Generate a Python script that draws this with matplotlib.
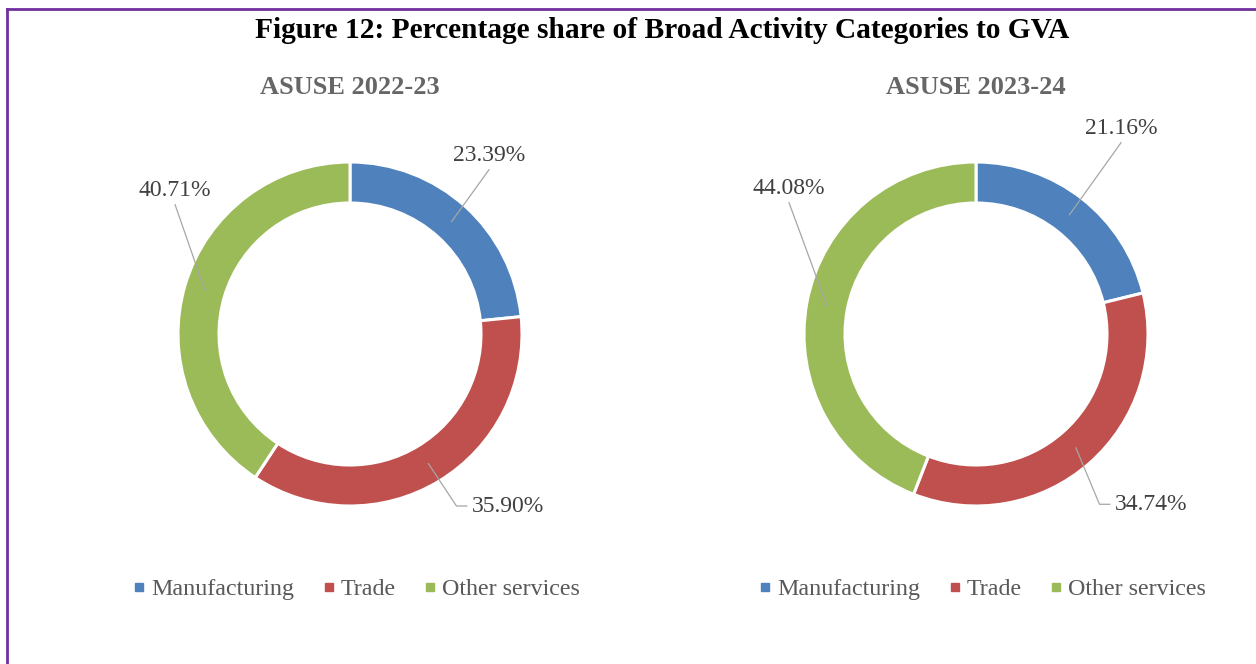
"""
Donut charts: share of broad activity categories in GVA, ASUSE 2022-23 vs 2023-24
"""
import matplotlib
matplotlib.use("Agg")
import matplotlib.pyplot as plt
from matplotlib.lines import Line2D
import numpy as np

categories = ["Manufacturing", "Trade", "Other services"]
share_2022_23 = [23.39, 35.90, 40.71]
share_2023_24 = [21.16, 34.74, 44.08]
survey_rounds = ["ASUSE 2022-23", "ASUSE 2023-24"]
colors = ["#4F81BD", "#C0504D", "#9BBB59"]

# label placement per chart (unit = outer radius): (x, y, kind)
label_spots = [
    [(0.808, 1.040, "top"), (0.709, -1.0, "side"), (-1.017, 0.837, "top")],
    [(0.843, 1.197, "top"), (0.808, -0.99, "side"), (-1.087, 0.848, "top")],
]

W, H = 1256, 664
R_PX = 172          # outer radius in pixels
HALF = 1.6          # axes half-extent in radius units
centers = [(350, 334), (976, 334)]
RING = 41 / R_PX

plt.rcParams["font.family"] = ["Liberation Serif", "DejaVu Serif"]
fig = plt.figure(figsize=(W / 100, H / 100), dpi=100)

fig.text(662 / W, 1 - 31 / H,
         "Figure 12: Percentage share of Broad Activity Categories to GVA",
         ha="center", va="center", fontsize=21.2, fontweight="bold", color="black")

for i, shares in enumerate([share_2022_23, share_2023_24]):
    cx, cy = centers[i]
    side = 2 * HALF * R_PX
    ax = fig.add_axes([(cx - HALF * R_PX) / W, 1 - (cy + HALF * R_PX) / H,
                       side / W, side / H])
    wedges, _ = ax.pie(shares, colors=colors, startangle=90, counterclock=False,
                       radius=1, wedgeprops=dict(width=RING, edgecolor="white",
                                                 linewidth=2.2))
    ax.set_xlim(-HALF, HALF)
    ax.set_ylim(-HALF, HALF)
    ax.set_aspect("equal")
    ax.axis("off")

    r_mid = 1 - RING / 2
    for w, val, (tx, ty, kind) in zip(wedges, shares, label_spots[i]):
        mid = np.deg2rad((w.theta1 + w.theta2) / 2)
        axp, ayp = r_mid * np.cos(mid), r_mid * np.sin(mid)
        txt = f"{val:.2f}%"
        if kind == "top":
            ax.plot([axp, tx], [ayp, ty - 0.085], color="#A6A6A6", lw=0.9,
                    clip_on=False)
            ax.text(tx, ty, txt, ha="center", va="center", fontsize=17,
                    color="#404040")
        else:
            ax.plot([axp, tx - 0.09, tx - 0.03], [ayp, ty, ty], color="#A6A6A6",
                    lw=0.9, clip_on=False)
            ax.text(tx, ty, txt, ha="left", va="center", fontsize=17,
                    color="#404040")

    fig.text(cx / W, 1 - 87 / H, survey_rounds[i], ha="center", va="center",
             fontsize=19, fontweight="bold", color="#666666")

    handles = [Line2D([], [], marker="s", linestyle="", color=c, markersize=5.5)
               for c in colors]
    fig.legend(handles, categories, loc="center", ncol=3, frameon=False,
               bbox_to_anchor=((cx + 6) / W, 1 - 589 / H), fontsize=17.3,
               handlelength=0.6, handletextpad=0.18, columnspacing=1.15,
               labelcolor="#595959")

# purple frame along the top and left edges
fig.add_artist(Line2D([7 / W, 1], [1 - 9 / H, 1 - 9 / H], color="#7030A0",
                      lw=2.0, transform=fig.transFigure))
fig.add_artist(Line2D([7 / W, 7 / W], [0, 1 - 9 / H], color="#7030A0",
                      lw=2.0, transform=fig.transFigure))

fig.savefig("out.png", dpi=100, facecolor="white")
